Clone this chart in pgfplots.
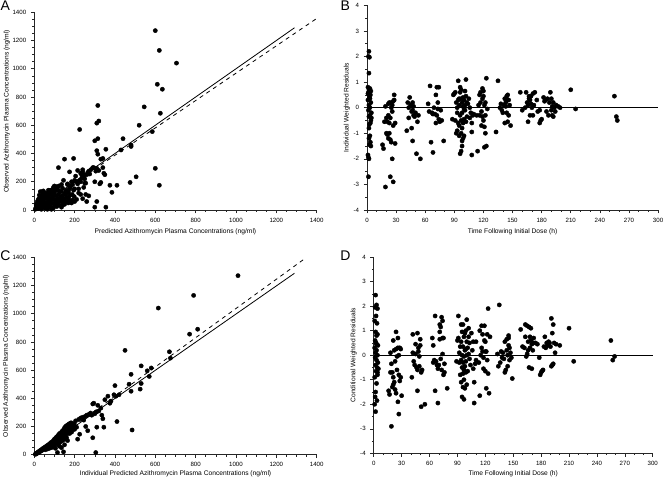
\documentclass[border=0pt]{standalone}
\usepackage{pgfplots}
\pgfplotsset{compat=1.18}
\usepackage{fontspec}
\setmainfont{Liberation Sans}
\pgfplotsset{
  panel/.style={
    scale only axis,
    axis x line=bottom, axis y line=left,
    axis line style={-, line width=0.5pt, black!85},
    tick align=outside,
    major tick length=2.5pt, minor tick length=1.4pt,
    every tick/.style={black!85, line width=0.4pt},
    tick label style={font=\fontsize{4.6}{5}\selectfont},
    label style={font=\fontsize{5}{6}\selectfont},
    /pgf/number format/assume math mode=true,
    /pgf/number format/1000 sep={},
    clip=false,
  },
  conc/.style={xmin=0,xmax=1400,ymin=0,ymax=1400,
    xtick={0,200,...,1400}, ytick={0,200,...,1400},
    minor x tick num=3, minor y tick num=3},
  resid/.style={xmin=0,xmax=300,ymin=-4,ymax=4,
    xtick={0,30,...,300}, ytick={-4,-3,...,4},
    minor x tick num=2, minor y tick num=1},
  dots/.style={only marks, mark=*, mark size=1.6pt, black, mark options={fill=black, draw=black, line width=0.3pt}},
}
\begin{document}
\begin{tikzpicture}[x=1pt,y=1pt]
\useasboundingbox (0,0) rectangle (498,361.5);
\node[font=\fontsize{10.5}{12}\selectfont] at (4,357) {A};
\node[font=\fontsize{10.5}{12}\selectfont] at (259,357) {B};
\node[font=\fontsize{10.5}{12}\selectfont] at (4,169.5) {C};
\node[font=\fontsize{10.5}{12}\selectfont] at (259,169.5) {D};
% ---------------- A
\begin{axis}[panel, conc, at={(25.7pt,204pt)}, anchor=south west,
  width=211.8pt, height=148.3pt,
  xlabel={Predicted Azithromycin Plasma Concentrations (ng/ml)},
  ylabel={Observed Azithromycin Plasma Concentrations (ng/ml)},
  xlabel style={at={([yshift=-16.5pt]axis description cs:0.5,0)}, anchor=center},
  ylabel style={at={([xshift=-20.5pt]axis description cs:0,0.5)}, anchor=center},
]
\addplot[black, line width=0.6pt] coordinates {(0,0) (1290,1290)};
\addplot[black, line width=0.6pt, dashed] coordinates {(0,0) (1396,1352)};
\addplot[dots] coordinates {
(600,1270) (620,1130) (705,1040) (610,890) (635,855) (315,740) (545,730) (625,685)
(225,570) (320,630) (310,615) (520,600) (585,555) (440,505) (315,505) (300,490)
(480,460) (480,450) (430,425) (355,430) (310,420) (315,395) (330,360) (340,365)
(150,360) (195,365) (350,250) (345,260) (600,295) (505,235) (475,195) (620,175)
(410,175) (375,175) (385,125) (300,200) (330,195) (325,185) (310,295) (320,280)
(305,275) (340,300) (310,60) (300,20) (355,20) (270,100) (255,110) (260,60)
(120,300) (175,270) (215,280) (230,260) (240,285) (245,250) (235,225) (205,240)
(200,210) (210,200) (215,185) (250,190) (245,160) (220,150) (230,110) (240,80)
(210,75) (200,60) (185,50) (170,55) (150,60) (140,35) (160,120) (180,170)
(190,180) (165,180) (175,150) (145,210) (135,180) (110,165) (100,170) (120,140)
(95,150) (90,130) (80,140) (70,120) (60,110) (50,100) (40,130) (30,80) (20,60)
(10,30) (15,10) (25,20)
(5,5) (8,15) (10,40) (12,25) (15,60) (18,10) (20,30) (22,50) (25,80) (28,20)
(30,130) (32,45) (35,5) (35,90) (38,60) (40,25) (42,110) (45,70) (48,40) (50,15)
(50,95) (52,55) (55,120) (58,30) (60,80) (62,10) (65,100) (68,50) (70,140) (72,30)
(75,85) (78,60) (80,110) (82,20) (85,70) (88,130) (90,45) (92,95) (95,15) (95,160)
(98,75) (100,120) (102,35) (105,60) (108,100) (110,140) (112,25) (115,80) (118,50)
(120,110) (122,170) (125,35) (128,90) (130,65) (132,130) (135,20) (138,100)
(140,155) (142,55) (145,85) (148,120) (150,40) (152,70) (155,110) (158,140)
(160,60) (162,90) (165,185) (168,50) (170,125) (172,75) (175,100) (178,160)
(180,55) (185,200) (188,110) (190,70) (195,140) (198,95) (60,40) (70,70) (80,55)
(90,80) (100,45) (110,70) (40,55) (30,65) (20,75) (15,35) (25,105) (45,135)
(55,20) (65,5) (75,25) (85,5) (95,110) (105,150) (115,45) (125,130) (135,75)
(225,210) (230,200) (235,250) (240,270) (245,240) (250,220) (255,190) (260,250)
(265,265) (270,275) (275,255) (280,285) (290,300) (295,300) (220,120) (200,150)
};
\end{axis}
% ---------------- B
\begin{axis}[panel, resid, at={(275.25pt,204pt)}, anchor=south west,
  width=218.3pt, height=153.5pt,
  xlabel={Time Following Initial Dose (h)},
  ylabel={Individual Weighted Residuals},
  xlabel style={at={([yshift=-16.5pt]axis description cs:0.5,0)}, anchor=center},
  ylabel style={at={([xshift=-15pt]axis description cs:0,0.5)}, anchor=center},
]
\addplot[black, line width=0.6pt] coordinates {(0,0) (300,0)};
\addplot[dots] coordinates {
(2,2.2) (1.5,2.0) (2.5,1.97) (2,1.35) (1,0.8) (3,0.75) (2,0.7) (4,0.65) (1.5,0.6)
(3.5,0.5) (2.5,0.4) (1,0.3) (4,0.2) (2,0.1) (3,0.0) (1.5,-0.1) (4.5,-0.2) (3,-0.3)
(2,-0.35) (4,-0.5) (3.5,-0.6) (2.5,-0.65) (3,-1.1) (2,-1.2) (3.5,-1.35) (2.5,-1.45)
(4,-1.5) (1,-1.85) (1.5,-1.95) (2,-2.0) (1.5,-2.7) (4.5,-0.4) (3,0.35) (2,-0.8) (1,0.55)
(16,-1.45) (17,-1.6) (18,-0.55) (19,0.05) (19,-3.1) (20,-0.4) (20,-1.0) (21,-0.55)
(21,-1.05) (22,0.15) (22,-1.2) (22,-0.3) (23,-1.0) (23,0.2) (24,-1.25) (24,-0.4)
(24,-2.7) (25,-1.35) (25,0.0) (26,0.1) (26,-0.15) (26,-2.0) (27,0.25) (27,-0.7)
(27,-2.9) (28,0.5) (28,0.3) (29,-0.6) (29,-1.4) (25,0.2) (23,-0.6)
(41,-0.9) (42,0.2) (43,0.0) (43,-0.4) (44,0.4) (45,0.1) (46,-0.8) (46,-0.15)
(47,-1.3) (47,0.2) (48,-0.3) (48,0.05) (49,-0.35) (50,-0.2) (51,-1.8) (52,-0.55)
(53,-0.3) (55,-2.0) (47,-0.1)
(63,0.15) (64,-0.15) (65,0.85) (66,-1.35) (67,-0.2) (68,-1.75) (69,0.0) (70,-0.25)
(71,0.5) (71,-0.6) (72,0.8) (72,-0.3) (73,0.2) (73,-0.05) (74,0.8) (74,-0.45)
(75,-0.55) (76,-0.1) (77,-0.5) (79,-1.3) (68,-0.25)
(88,-0.45) (89,0.5) (90,0.55) (91,0.6) (91,-0.5) (92,-1.0) (92,0.2) (93,-0.9)
(93,0.0) (94,1.05) (94,-0.6) (94,0.3) (95,0.1) (95,-0.7) (95,-1.1) (96,0.8)
(96,0.6) (96,-0.3) (96,-1.8) (97,0.7) (97,0.35) (97,-0.5) (97,-1.0) (97,-1.7)
(98,0.2) (98,-0.2) (98,-0.8) (98,-1.3) (98,-1.5) (99,0.4) (99,0.05) (99,-0.6)
(99,-1.2) (100,0.3) (100,-0.45) (100,-1.1) (101,0.65) (101,0.1) (101,-0.1)
(102,1.1) (102,0.45) (102,-0.55) (103,0.2) (103,-0.35) (104,0.15) (105,0.35)
(106,0.0) (106,-0.4) (107,-0.2) (108,-0.6) (108,-0.95) (108,-1.85) (109,-0.3)
(110,-0.25) (95,0.35) (93,-0.2) (100,-0.05)
(113,-0.3) (114,-1.7) (115,0.1) (116,0.5) (116,-0.3) (117,0.6) (117,0.2) (118,-0.7)
(118,-0.15) (119,0.35) (119,0.75) (119,-0.35) (120,0.65) (120,0.45) (120,-0.5)
(121,0.1) (121,-0.75) (121,-1.55) (122,0.2) (122,-1.0) (123,1.15) (123,-1.5)
(124,-0.05) (122,-0.3)
(133,-0.95) (135,1.05) (137,0.0) (138,0.15) (139,-0.1) (140,-0.2) (141,0.1)
(142,0.35) (142,-0.6) (143,0.2) (143,0.05) (144,0.45) (144,-0.2) (145,0.5)
(145,-0.55) (146,-0.3) (146,0.3) (147,0.1) (148,-0.7) (144,0.3)
(158,0.6) (160,-0.1) (163,0.0) (164,0.6) (165,0.2) (166,0.1) (166,-0.55) (167,0.35)
(168,0.3) (168,-0.3) (169,0.15) (169,0.45) (170,0.0) (171,0.55) (171,-0.3) (172,0.1)
(173,0.6) (175,0.3) (176,-0.15) (178,-0.1) (167,0.45)
(178,-0.6) (179,-0.5) (180,-0.45) (182,0.4) (183,0.25) (184,0.3) (185,-0.15)
(186,0.35) (187,-0.3) (188,0.2) (189,0.6) (190,0.35) (190,-0.1) (191,-0.3)
(192,-0.35) (192,0.2) (193,0.0) (194,-0.15) (195,0.1) (197,0.05) (199,0.0) (191,0.05)
(210,0.7) (215,-0.05) (255,0.45) (257,-0.35) (258,-0.5)
};
\end{axis}
% ---------------- C
\begin{axis}[panel, conc, at={(25.7pt,20.5pt)}, anchor=south west,
  width=211.8pt, height=148pt,
  xlabel={Individual Predicted Azithromycin Plasma Concentrations (ng/ml)},
  ylabel={Observed Azithromycin Plasma Concentrations (ng/ml)},
  xlabel style={at={([yshift=-14.5pt]axis description cs:0.5,0)}, anchor=center},
  ylabel style={at={([xshift=-21pt]axis description cs:0,0.5)}, anchor=center},
]
\addplot[black, line width=0.6pt] coordinates {(0,0) (1290,1287)};
\addplot[black, line width=0.6pt, dashed] coordinates {(0,0) (1347,1397)};
\addplot[dots] coordinates {
(5,3) (8,8) (10,5) (12,12) (15,10) (18,16) (20,20) (22,15) (25,24) (28,22) (30,30)
(32,25) (35,35) (38,30) (40,40) (42,35) (45,46) (48,40) (50,50) (52,44) (55,55)
(58,48) (60,60) (62,52) (65,65) (68,58) (70,70) (72,62) (75,75) (78,68) (80,82)
(82,70) (85,88) (88,75) (90,92) (92,80) (95,100) (98,85) (100,110) (102,90)
(105,115) (108,95) (110,125) (112,100) (115,130) (118,105) (120,140) (122,95)
(125,150) (128,110) (130,145) (132,120) (135,160) (138,115) (140,170) (142,130)
(145,175) (148,125) (150,190) (152,140) (155,200) (158,150) (160,205) (162,165)
(165,210) (168,170) (170,215) (172,180) (175,220) (178,190) (180,225) (182,200)
(185,205) (188,185) (190,210) (195,200) (198,220) (100,60) (110,80) (120,70)
(105,45) (115,15) (145,20) (130,90) (140,100) (150,110) (160,120) (165,100)
(175,150) (185,160) (200,180) (205,240) (210,195) (215,110) (220,250) (225,145)
(230,260) (240,265) (245,245) (250,270) (255,200) (260,280) (265,170) (270,285)
(275,290) (280,295) (285,280) (290,360) (295,365) (300,290) (305,300) (310,305)
(315,350) (320,310) (330,330) (290,120) (305,15) (335,280) (340,255) (345,195)
(310,195) (350,390) (365,415) (375,365) (380,380) (395,425) (400,490) (405,415)
(420,425) (450,740) (470,500) (480,450) (480,570) (485,175) (410,235) (525,465)
(530,505) (530,630) (560,595) (570,555) (580,615) (615,1040) (670,730) (675,685)
(770,855) (790,1130) (810,890) (1010,1270)
(60,45) (70,55) (80,60) (90,70) (95,55) (85,50) (75,45) (65,40) (55,35)
(110,105) (120,115) (130,125) (135,100) (145,140) (155,165) (165,150) (170,190)
(180,175) (190,195) (195,180) (185,225) (175,200) (125,60) (135,50) (150,70)
};
\end{axis}
% ---------------- D
\begin{axis}[panel, resid, at={(280.3pt,21.5pt)}, anchor=south west,
  width=209.25pt, height=147.2pt,
  xlabel={Time Following Initial Dose (h)},
  ylabel={Conditional Weighted Residuals},
  xlabel style={at={([yshift=-15.5pt]axis description cs:0.5,0)}, anchor=center},
  ylabel style={at={([xshift=-15pt]axis description cs:0,0.5)}, anchor=center},
]
\addplot[black, line width=0.6pt] coordinates {(0,0) (300,0)};
\addplot[dots] coordinates {
(2,2.45) (3,2.05) (1.5,1.95) (4,1.9) (2.5,1.6) (1,1.4) (3.5,1.3) (2,0.95) (4,0.85)
(3,0.8) (1.5,0.6) (2.5,0.5) (4.5,0.4) (1,0.3) (3,0.2) (2,0.1) (4,0.0) (1.5,-0.1)
(3,-0.2) (4.5,-0.3) (2,-0.4) (3.5,-0.5) (5,-0.55) (2.5,-0.65) (4,-0.8) (1,-0.9)
(3,-1.15) (2,-1.5) (1.5,-1.7) (3.5,-1.85) (1,-2.0) (2,-2.3) (4,-0.7) (3,0.45)
(16,-1.45) (17,-1.6) (18,0.1) (18,-0.7) (19,-0.35) (19,-2.9) (20,-0.7) (20,-1.3)
(21,0.6) (21,-0.9) (21,-1.2) (22,0.2) (22,-1.1) (23,-0.25) (23,-1.4) (24,0.95)
(24,0.25) (24,-1.55) (25,-0.6) (25,-0.05) (26,0.3) (26,0.7) (26,-1.9) (27,0.0)
(27,-0.8) (27,-2.4) (28,0.3) (28,-1.05) (29,0.25) (29,-0.9) (30,-1.65)
(41,-0.9) (42,0.85) (42,0.1) (43,-0.25) (44,-0.4) (45,0.45) (45,0.05) (46,-0.5)
(47,0.9) (47,-0.6) (47,-1.45) (48,0.3) (48,0.15) (49,-0.05) (49,-0.45) (50,0.65)
(50,0.4) (51,-0.7) (51,-2.1) (52,-0.6) (55,-2.0)
(63,0.7) (64,0.4) (64,-0.3) (65,-0.2) (66,1.6) (66,-1.45) (67,-0.25) (68,-0.4)
(69,-1.95) (69,-0.55) (70,-0.4) (71,1.25) (71,0.95) (71,0.65) (72,1.15) (72,-0.15)
(73,-0.6) (73,1.55) (74,1.4) (74,0.05) (74,0.7) (75,-0.8) (75,0.7) (76,-0.7)
(76,-0.35) (79,-1.35)
(89,-0.25) (90,0.6) (91,1.6) (91,0.7) (92,-0.3) (92,0.1) (93,0.35) (93,-0.8)
(94,1.25) (94,0.55) (94,-0.2) (94,-1.1) (95,0.95) (95,0.0) (95,-0.5) (95,-1.7)
(96,1.25) (96,0.35) (96,-0.3) (96,-0.75) (96,-1.3) (97,0.75) (97,-0.05) (97,-0.6)
(97,-1.0) (97,-1.8) (98,0.9) (98,0.2) (98,-0.45) (98,-1.35) (99,1.0) (99,0.25)
(99,-0.25) (99,-0.7) (100,1.45) (100,0.55) (100,0.0) (100,-1.2) (101,0.3)
(101,-0.65) (102,1.1) (102,0.75) (102,0.05) (103,0.5) (103,-0.15) (104,-0.4)
(105,0.9) (106,0.2) (107,0.55) (107,-0.55) (108,-1.1) (108,-1.95) (109,-0.35)
(110,0.55) (110,-0.2)
(113,-0.3) (114,1.0) (114,-1.65) (115,0.0) (116,1.2) (116,0.3) (117,0.85) (117,0.15)
(118,-0.55) (118,-0.1) (119,0.6) (119,1.2) (120,0.15) (120,0.55) (120,-0.65)
(121,-1.35) (121,0.15) (122,0.85) (122,-0.2) (123,1.9) (123,-0.75) (124,-1.55)
(125,0.75)
(133,0.05) (134,-0.45) (135,2.05) (136,-0.3) (137,0.15) (138,-0.1) (139,0.1)
(140,-0.15) (141,0.55) (141,-0.7) (142,-0.6) (143,0.2) (143,0.65) (144,0.0)
(144,-0.45) (145,0.8) (145,0.7) (146,0.3) (146,-0.2) (147,0.1) (148,-0.1)
(149,-0.95) (145,0.4)
(158,1.05) (160,0.35) (162,0.3) (163,1.25) (163,0.75) (164,-0.05) (165,1.2)
(165,0.05) (166,0.55) (166,0.2) (167,1.15) (167,-0.5) (168,0.75) (168,0.3)
(169,1.1) (169,0.6) (170,-0.55) (170,0.45) (171,0.2) (172,0.7) (172,0.5) (174,0.5)
(176,0.45) (178,-0.1)
(179,-0.8) (180,-0.7) (181,-0.65) (182,-0.6) (183,0.35) (184,0.75) (185,0.3)
(186,0.5) (187,0.4) (188,0.55) (189,0.5) (190,0.35) (191,1.5) (191,-0.45)
(192,-0.4) (192,0.9) (193,1.25) (193,-0.35) (194,0.5) (195,0.1) (196,0.45) (200,0.4)
(210,1.1) (215,-0.25) (255,0.6) (257,-0.2) (259,-0.05)
};
\end{axis}
\end{tikzpicture}
\end{document}
